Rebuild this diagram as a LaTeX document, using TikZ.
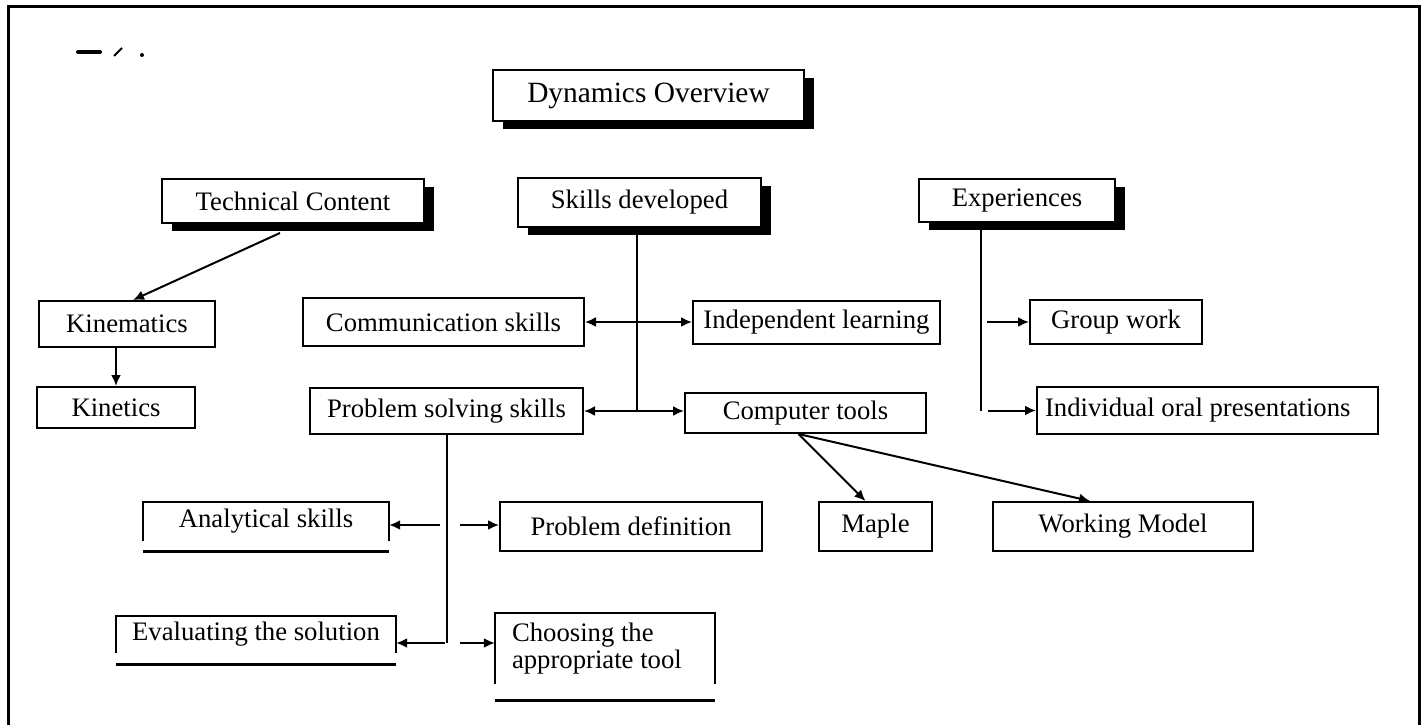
\documentclass[tikz,border=0pt]{standalone}
\usepackage{fontspec}
\setmainfont{Liberation Serif}
\usetikzlibrary{arrows.meta,shadows}

\tikzset{
  box/.style={draw,line width=2pt,inner sep=0pt,font=\fontsize{26.7}{30}\selectfont},
  headbox/.style={box,fill=white,drop shadow={shadow xshift=10pt,shadow yshift=-8pt,fill=black,opacity=1}},
  openbox/.style={inner sep=0pt,font=\fontsize{26.7}{30}\selectfont},
  link/.style={line width=2pt},
  >={Latex[length=11pt,width=10pt]}
}

\begin{document}
\begin{tikzpicture}[x=1pt,y=-1pt]
\useasboundingbox (0,0) rectangle (1425,725);

% frame and scan marks
\draw[line width=3pt] (8,725) -- (8,7) -- (1419,7) -- (1419,725);
\draw[line width=4pt,line cap=round] (78,52) -- (100,52);
\draw[line width=2pt] (114,56) -- (122,48);
\fill (142,55) circle (2pt);

\node[headbox,minimum width=311pt,minimum height=51pt,font=\fontsize{29.4}{34}\selectfont] (overview) at (648.5,95.5) {Dynamics Overview};

\node[headbox,minimum width=262pt,minimum height=44pt] (tech) at (293,201) {Technical Content};
\node[headbox,minimum width=243pt,minimum height=49pt] (skills) at (639.5,202.5) {Skills developed};
\node[headbox,minimum width=196pt,minimum height=43pt] (exper) at (1017,200.5) {Experiences};

\node[box,minimum width=176pt,minimum height=46pt] (kinem) at (127,324) {Kinematics};
\node[box,minimum width=158pt,minimum height=41pt] (kinet) at (116,407.5) {Kinetics};

\node[box,minimum width=281pt,minimum height=48pt] (comm) at (443.5,322) {Communication skills};
\node[box,minimum width=247pt,minimum height=43pt] (indep) at (816.5,322) {Independent learning};
\node[box,minimum width=273pt,minimum height=46pt] (probsolve) at (446.5,411) {Problem solving skills};
\node[box,minimum width=241pt,minimum height=40pt] (comptools) at (805.5,413) {Computer tools};

\node[box,minimum width=172pt,minimum height=44pt] (group) at (1116,322) {Group work};
\node[box,minimum width=341pt,minimum height=47pt] (indiv) at (1207.5,410.5) {\makebox[325pt][l]{Individual oral presentations}};

\node[openbox,minimum width=246pt,minimum height=39pt] (analyt) at (266,521.5) {Analytical skills};
\node[box,minimum width=262pt,minimum height=49pt] (probdef) at (631,526.5) {Problem definition};
\node[box,minimum width=113pt,minimum height=49pt] (maple) at (875.5,526.5) {Maple};
\node[box,minimum width=260pt,minimum height=49pt] (workmodel) at (1123,526.5) {Working Model};

\node[openbox,minimum width=280pt,minimum height=37pt] (evalsol) at (256,634.5) {Evaluating the solution};
\node[openbox,minimum width=220pt,minimum height=71pt,align=left,font=\fontsize{26.7}{27}\selectfont] (choose) at (605,648.5) {\makebox[186pt][l]{Choosing the}\\appropriate tool};

% open boxes: top and sides, bottom rule set apart
\foreach \b/\g in {analyt/10pt,evalsol/11pt,choose/16pt}{
  \draw[line width=2pt] (\b.south west) |- (\b.north east) -- (\b.south east);
  \draw[line width=2.6pt] ([yshift=-\g]\b.south west) -- ([yshift=-\g]\b.south east);
}

% Technical content
\draw[link,->] ([xshift=-13pt,yshift=-9pt]tech.south) -- ([xshift=6pt]kinem.north);
\draw[link,->] (kinet.north |- kinem.south) -- (kinet.north);

% Skills developed
\coordinate (skline) at (637,0);
\draw[link] (skills.south -| skline) -- (probsolve.east -| skline);
\draw[link,<->] (comm.east) -- (indep.west);
\draw[link,<->] (probsolve.east) -- (probsolve.east -| comptools.west);
\draw[link,->] ([xshift=-7pt]comptools.south) -- ([xshift=-10pt]maple.north);
\draw[link,->] ([xshift=-7pt]comptools.south) -- ([xshift=-33pt]workmodel.north);

% Experiences
\coordinate (exline) at (981,0);
\draw[link] (exper.south -| exline) -- (indiv.west -| exline);
\draw[link,->,shorten <=6pt] (group.west -| exline) -- (group.west);
\draw[link,->,shorten <=7pt] (indiv.west -| exline) -- (indiv.west);

% Problem solving
\coordinate (row1) at (447,525);
\coordinate (row2) at (447,643);
\draw[link] (probsolve.south -| row1) -- (row2);
\draw[link,->,shorten <=7pt] (row1) -- (row1 -| analyt.east);
\draw[link,->,shorten <=13pt] (row1) -- (row1 -| probdef.west);
\draw[link,->,shorten <=2pt] (row2) -- (row2 -| evalsol.east);
\draw[link,->,shorten <=13pt] (row2) -- (row2 -| choose.west);
\end{tikzpicture}
\end{document}
